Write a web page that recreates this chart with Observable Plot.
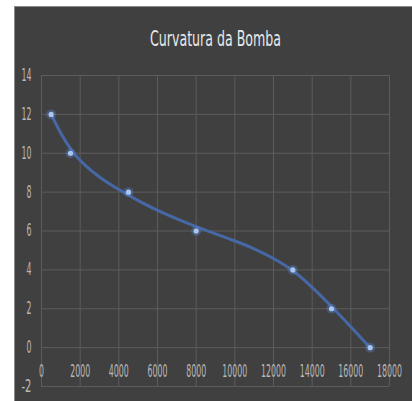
<!DOCTYPE html>
<html>
<head>
<meta charset="utf-8">
<script src="https://cdn.jsdelivr.net/npm/d3@7"></script>
<script src="https://cdn.jsdelivr.net/npm/@observablehq/plot@0.6"></script>
<style>
  html, body { margin: 0; padding: 0; background: #ffffff; }
  #panel { position: absolute; left: 14px; top: 6px; width: 398px; height: 395px; background: #404040; border-top: 1px solid #8a8a8a; border-left: 1px solid #8a8a8a; box-sizing: border-box; }
  #chart { position: absolute; left: -1px; top: -1px; }
</style>
</head>
<body>
<div id="panel"><div id="chart"></div></div>
<script>
const title = "Curvatura da Bomba";
// data points
const pointX = [500, 1500, 4500, 8000, 13000, 15000, 17000];
const pointY = [12, 10, 8, 6, 4, 2, 0];
// trendline
const trendX = [500, 1000, 1600, 2200, 3000, 4000, 5100, 6200, 8000, 10000, 11000, 12000, 13000, 14000, 15000, 16000, 17000];
const trendY = [12, 11.0, 10.05, 9.4, 8.75, 8.12, 7.5, 6.95, 6.2, 5.5, 5.1, 4.6, 4.0, 3.12, 2.12, 1.07, 0];
const xTicks = [0, 2000, 4000, 6000, 8000, 10000, 12000, 14000, 16000, 18000];
const yTicks = [-2, 0, 2, 4, 6, 8, 10, 12, 14];

const points = pointX.map((x, i) => ({x, y: pointY[i]}));
const trend = trendX.map((x, i) => ({x, y: trendY[i]}));

const font = "'DejaVu Sans', sans-serif";

const chart = Plot.plot({
  width: 398,
  height: 395,
  marginLeft: 27,
  marginRight: 23,
  marginTop: 69,
  marginBottom: 15,
  style: { background: "transparent", color: "#b8b8b8", fontFamily: font, fontSize: "17px", overflow: "visible" },
  x: { domain: [0, 18000], ticks: xTicks },
  y: { domain: [-2, 14], ticks: yTicks },
  marks: [
    Plot.gridX(xTicks, { stroke: "#5c5c5c", strokeOpacity: 1, strokeWidth: 1 }),
    Plot.gridY(yTicks, { stroke: "#5c5c5c", strokeOpacity: 1, strokeWidth: 1 }),
    Plot.axisX(xTicks, { anchor: "bottom", tickSize: 0, tickPadding: 0, dy: -22, label: null, fill: "#b8b8b8", fontSize: 17, tickFormat: d => String(d), className: "tick-x" }),
    Plot.axisY(yTicks, { anchor: "left", tickSize: 0, tickPadding: 10, label: null, fill: "#b8b8b8", fontSize: 17, tickFormat: d => String(d), className: "tick-y" }),
    Plot.line(trend, { x: "x", y: "y", curve: "basis", stroke: "#4768a6", strokeWidth: 3 }),
    Plot.dot(points, { x: "x", y: "y", r: 5, fill: "#5b86d0", fillOpacity: 0.35, stroke: "none" }),
    Plot.dot(points, { x: "x", y: "y", r: 2.6, fill: "#a9c6f0", stroke: "none" }),
    Plot.text([title], { frameAnchor: "top", lineAnchor: "middle", dy: -37, text: d => d, fill: "#e8e8e8", fontSize: 22, fontFamily: font, className: "title-text" })
  ]
});
document.getElementById("chart").appendChild(chart);

// narrow the glyphs horizontally around their anchor (the reference uses a condensed face)
function condense(selector, targetWidth) {
  chart.querySelectorAll(selector).forEach(t => {
    const len = t.getComputedTextLength();
    if (!(len > 0)) return;
    const k = targetWidth(t.textContent) / len;
    let tr = t.getAttribute("transform");
    if (!tr) {
      const x = +t.getAttribute("x") || 0, y = +t.getAttribute("y") || 0;
      t.removeAttribute("x"); t.removeAttribute("y");
      tr = `translate(${x},${y})`;
    }
    t.setAttribute("transform", `${tr} scale(${k.toFixed(4)},1)`);
  });
}
condense(".tick-x text, .tick-y text", s => s.length * 5);
condense(".title-text text", s => 131);
</script>
</body>
</html>
